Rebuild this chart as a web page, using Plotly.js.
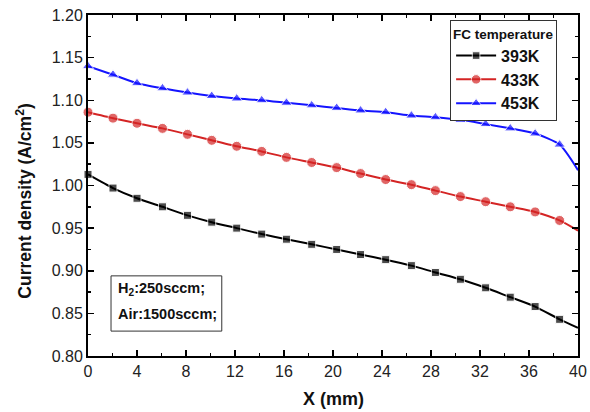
<!DOCTYPE html>
<html><head><meta charset="utf-8">
<script src="https://cdn.plot.ly/plotly-3.0.1.min.js"></script>
<style>html,body{margin:0;padding:0;background:#fff}#chart{width:590px;height:412px}</style>
</head><body><div id="chart"></div>
<script>
// Positions along the channel (mm); last point (40) has no marker
const xPos = [0, 2.04, 4.0, 6.08, 8.12, 10.1, 12.14, 14.18, 16.2, 18.26, 20.3, 22.25, 24.3, 26.4, 28.36, 30.4, 32.46, 34.47, 36.5, 38.5, 40];
const seriesNames = ["393K", "433K", "453K"];
const y393 = [1.013, 0.997, 0.985, 0.975, 0.965, 0.957, 0.950, 0.943, 0.937, 0.931, 0.925, 0.919, 0.913, 0.906, 0.898, 0.890, 0.880, 0.869, 0.858, 0.843, 0.833];
const y433 = [1.086, 1.079, 1.073, 1.067, 1.060, 1.053, 1.046, 1.040, 1.033, 1.027, 1.021, 1.014, 1.007, 1.001, 0.994, 0.987, 0.981, 0.975, 0.969, 0.959, 0.947];
const y453 = [1.140, 1.130, 1.120, 1.114, 1.109, 1.105, 1.102, 1.100, 1.097, 1.094, 1.091, 1.088, 1.086, 1.082, 1.080, 1.077, 1.072, 1.067, 1.061, 1.048, 1.018];
const xTicks = [0, 4, 8, 12, 16, 20, 24, 28, 32, 36, 40];
const yTicks = [0.80, 0.85, 0.90, 0.95, 1.00, 1.05, 1.10, 1.15, 1.20];
const noteLines = ["H<sub>2</sub>:250sccm;", "Air:1500sccm;"];
const xTitle = "X (mm)";
const yTitle = "Current density (A/cm<sup>2</sup>)";

const colors = ["#000000", "#d42424", "#1414ff"];
const symbols = ["square", "circle", "triangle-up"];
const msize = [8, 10, 10];
const ys = [y393, y433, y453];

const nPts = xPos.length;
const sizes = i => xPos.map((v, k) => k === nPts - 1 ? 0 : msize[i]);

const traces = ys.map((y, i) => ({
  x: xPos, y: y, name: '<b>' + seriesNames[i] + '</b>', type: 'scatter', mode: 'lines+markers',
  line: {color: colors[i], width: 2, shape: 'spline', smoothing: 0.6},
  marker: {symbol: symbols[i], size: sizes(i), color: colors[i]},
  cliponaxis: false
}));

const font = "Liberation Sans, Arial, sans-serif";
const layout = {
  width: 590, height: 412,
  margin: {l: 88, r: 12, t: 15, b: 56},
  paper_bgcolor: '#fff', plot_bgcolor: '#fff',
  font: {family: font, color: '#222', size: 14},
  showlegend: true,
  legend: {
    x: 0.739, y: 0.985, xanchor: 'left', yanchor: 'top',
    bordercolor: '#333', borderwidth: 1, bgcolor: '#fff',
    title: {text: '<b>FC temperature</b>', font: {size: 13.5, family: font, color: '#111'}},
    font: {size: 16, family: font, color: '#111'},
    itemwidth: 40, tracegroupgap: 0
  },
  xaxis: {
    range: [0, 40], tickvals: xTicks, ticktext: xTicks.map(String),
    ticks: 'inside', ticklen: 6, tickwidth: 1.5, tickcolor: '#000',
    showline: true, linewidth: 2, linecolor: '#000', mirror: 'allticks',
    showgrid: false, zeroline: false,
    minor: {tickvals: [2,6,10,14,18,22,26,30,34,38], ticks: 'inside', ticklen: 3, tickwidth: 1.5, tickcolor: '#000', showgrid: false},
    tickfont: {size: 16, family: font, color: '#222'}
  },
  yaxis: {
    range: [0.80, 1.20], tickvals: yTicks, ticktext: yTicks.map(v => v.toFixed(2)),
    ticks: 'inside', ticklen: 6, tickwidth: 1.5, tickcolor: '#000',
    showline: true, linewidth: 2, linecolor: '#000', mirror: 'allticks',
    showgrid: false, zeroline: false,
    minor: {tickvals: [0.825,0.875,0.925,0.975,1.025,1.075,1.125,1.175], ticks: 'inside', ticklen: 3, tickwidth: 1.5, tickcolor: '#000', showgrid: false},
    tickfont: {size: 16, family: font, color: '#222'}
  },
  shapes: [{
    type: 'rect', xref: 'paper', yref: 'paper', x0: 0.047, x1: 0.273, y0: 0.073, y1: 0.235,
    line: {color: '#333', width: 1}, fillcolor: 'rgba(0,0,0,0)'
  }],
  annotations: noteLines.map((t, i) => ({
    xref: 'paper', yref: 'paper', x: 0.057, y: [0.196, 0.123][i], xanchor: 'left', yanchor: 'middle',
    text: '<b>' + t + '</b>', showarrow: false, font: {size: 14.5, family: font, color: '#111'}
  })).concat([
    {xref: 'paper', yref: 'paper', x: 0.5, y: -0.126, xanchor: 'center', yanchor: 'middle',
     text: '<b>' + xTitle + '</b>', showarrow: false, font: {size: 18, family: font, color: '#111'}},
    {xref: 'paper', yref: 'paper', x: -0.131, y: 0.455, xanchor: 'center', yanchor: 'middle', textangle: -90,
     text: '<b>' + yTitle + '</b>', showarrow: false, font: {size: 17.5, family: font, color: '#111'}}
  ])
};
Plotly.newPlot('chart', traces, layout, {displayModeBar: false, staticPlot: true});
</script></body></html>
